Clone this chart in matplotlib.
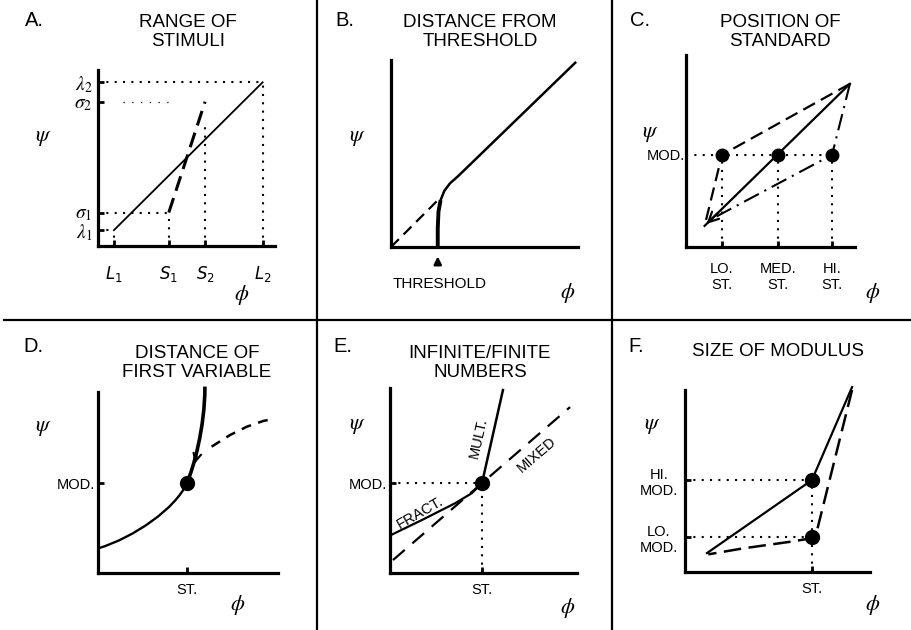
import numpy as np
import matplotlib.pyplot as plt
from matplotlib.path import Path
from matplotlib.patches import PathPatch

plt.rcParams['font.family'] = ['Liberation Sans', 'DejaVu Sans']
plt.rcParams['mathtext.fontset'] = 'dejavusans'

W, H = 911, 630

# ---- panel A: range of stimuli
a_L = [9, 93]          # large stimulus range (phi)
a_S = [40, 60.5]       # small stimulus range (phi)
a_lam = [9, 93]        # responses for large range
a_sig = [19, 82]       # responses for small range
a_xlabels = ['$L_1$', '$S_1$', '$S_2$', '$L_2$']
a_ylabels = [r'$\lambda_1$', r'$\sigma_1$', r'$\sigma_2$', r'$\lambda_2$']

# ---- panel B: distance from threshold
b_x = [25, 25, 25.4, 26.5, 28.5, 31.5, 36, 99]
b_y = [0, 10, 19, 25, 30, 34, 38, 99]
b_dash_x = [0, 25]
b_dash_y = [0, 25]
b_threshold = 25

# ---- panel C: position of standard
c_st = [21.3, 54.4, 86.4]          # LO, MED, HI standard
c_mod = 48
c_top = (97, 85)
c_bottom = (11, 11)
c_dashdot_end = (14, 14)
c_xlabels = ['LO.\nST.', 'MED.\nST.', 'HI.\nST.']

# ---- panel D: distance of first variable (bezier control points)
d_lower = [(0, 13.6), (20, 19.5), (43.4, 35.9), (49.4, 49.7)]
d_upper = [(49.4, 49.7), (53, 58), (59.4, 80), (59.4, 103)]
d_dash_x = [63.1, 73.3, 82.6, 91.8, 97.4]
d_dash_y = [69.8, 76.2, 80.8, 84, 85.1]
d_st, d_mod = 49.4, 49.7

# ---- panel E: infinite / finite numbers
e_st, e_mod = 49.2, 48.6
e_mult_x = [49.2, 60.4]
e_mult_y = [48.6, 98.9]
e_fract_x = [0.5, 8, 17, 25.8, 34.8, 43.7, 49.2]
e_fract_y = [20.5, 24.2, 28.6, 33.1, 37.7, 43.1, 48.6]
e_mixed_x = [1.6, 96.3]
e_mixed_y = [7, 89.7]

# ---- panel F: size of modulus
f_st = 68.6
f_hi, f_lo = 50.5, 19.2
f_top = (90.3, 101.6)
f_bl = (11.9, 10.4)
f_dash_x = [90.3, 71.4, 68.6, 65.8, 56.8, 31.5, 12.6]
f_dash_y = [100, 23, 19.2, 18.1, 16.6, 13, 9.7]

fig = plt.figure(figsize=(W / 100, H / 100), dpi=100)

# overlay in pixel coordinates for frame lines and titles
ov = fig.add_axes([0, 0, 1, 1])
ov.set_xlim(0, W)
ov.set_ylim(H, 0)
ov.axis('off')
ov.plot([317, 317], [0, H], color='k', lw=1.6)
ov.plot([612, 612], [0, H], color='k', lw=1.6)
ov.plot([4, W], [320, 320], color='k', lw=1.6)

titles = [('A.', 25, 20, 'RANGE OF\nSTIMULI', 188, 32),
          ('B.', 335, 20, 'DISTANCE FROM\nTHRESHOLD', 480, 32),
          ('C.', 630, 20, 'POSITION OF\nSTANDARD', 780, 32),
          ('D.', 23, 347, 'DISTANCE OF\nFIRST VARIABLE', 197, 363),
          ('E.', 333, 347, 'INFINITE/FINITE\nNUMBERS', 480, 363),
          ('F.', 628, 347, 'SIZE OF MODULUS', 778, 352)]
for let, lx, ly, t, tx, ty in titles:
    ov.text(lx, ly, let, fontsize=14.5, ha='left', va='center')
    ov.text(tx, ty, t, fontsize=13.5, ha='center', va='center', linespacing=1.15)

psi_pos = [(43, 137), (357, 137), (650, 133), (43, 428), (357, 425), (652, 425)]
phi_pos = [(242, 295), (568, 293), (873, 293), (238, 605), (568, 608), (873, 605)]
for x, y in psi_pos:
    ov.text(x, y, r'$\psi$', fontsize=16, ha='center', va='center', math_fontfamily='stix')
for x, y in phi_pos:
    ov.text(x, y, r'$\phi$', fontsize=16, ha='center', va='center', math_fontfamily='stix')


def panel(left, bottom, right, top):
    ax = fig.add_axes([left / W, 1 - bottom / H, (right - left) / W, (bottom - top) / H])
    ax.set_xlim(0, 100)
    ax.set_ylim(0, 100)
    ax.patch.set_alpha(0)
    for s in ['top', 'right']:
        ax.spines[s].set_visible(False)
    for s in ['left', 'bottom']:
        ax.spines[s].set_linewidth(2.3)
        ax.spines[s].set_capstyle('projecting')
    ax.set_xticks([])
    ax.set_yticks([])
    ax.tick_params(direction='in', length=4, width=2, labelsize=10.5)
    return ax


def bezier(ax, pts, lw):
    path = Path(pts, [Path.MOVETO, Path.CURVE4, Path.CURVE4, Path.CURVE4])
    ax.add_patch(PathPatch(path, fc='none', ec='k', lw=lw, clip_on=False))


DOT = (0, (1, 3))
kw_dot = dict(color='k', lw=1.5, ls=DOT, clip_on=False)

# A
ax = panel(98, 246, 275, 70)
ax.plot(a_L, a_lam, color='k', lw=1.3, clip_on=False)
ax.plot(a_S, a_sig, color='k', lw=2.2, ls=(0, (5, 2.5)), clip_on=False)
ax.plot([0, a_L[1]], [a_lam[1]] * 2, **kw_dot)
ax.plot([14, 42], [a_sig[1]] * 2, color='k', lw=0.9, ls=(0, (1, 6)), clip_on=False)
ax.plot([0, a_S[0]], [a_sig[0]] * 2, **kw_dot)
ax.plot([0, a_L[0]], [a_lam[0]] * 2, **kw_dot)
ax.plot([a_L[0]] * 2, [0, a_lam[0]], **kw_dot)
ax.plot([a_S[0]] * 2, [0, a_sig[0]], **kw_dot)
ax.plot([a_S[1]] * 2, [0, 70], **kw_dot)
ax.plot([a_L[1]] * 2, [0, a_lam[1]], **kw_dot)
ax.set_xticks([a_L[0], a_S[0], a_S[1], a_L[1]])
ax.set_xticklabels(a_xlabels, fontsize=12)
ax.set_yticks([a_lam[0], a_sig[0], a_sig[1], a_lam[1]])
ax.set_yticklabels(a_ylabels, fontsize=14, math_fontfamily='stix')
ax.tick_params(axis='x', pad=13)
ax.tick_params(axis='y', pad=4)

# B
ax = panel(391, 247, 578, 60)
ax.plot(b_x, b_y, color='k', lw=1.8, clip_on=False, solid_capstyle='butt')
ax.plot(b_x[:4], b_y[:4], color='k', lw=2.8, clip_on=False, solid_capstyle='butt')
ax.plot(b_dash_x, b_dash_y, color='k', lw=1.6, ls=(0, (5, 3)), clip_on=False)
ax.annotate('', xy=(b_threshold, -3.5), xytext=(b_threshold, -10), annotation_clip=False,
            arrowprops=dict(arrowstyle='-|>', lw=1.8, color='k', mutation_scale=11))
ax.text(b_threshold + 1, -20, 'THRESHOLD', fontsize=11, ha='center', va='center')

# C
ax = panel(686, 247, 855, 55)
ax.plot([c_top[0], c_bottom[0]], [c_top[1], c_bottom[1]], color='k', lw=1.6, clip_on=False)
ax.annotate('', xy=c_bottom, xytext=(20, 18.7), annotation_clip=False,
            arrowprops=dict(arrowstyle='->', lw=1.6, color='k', mutation_scale=18))
ax.plot([c_top[0], c_st[0], c_bottom[0]], [c_top[1], c_mod, c_bottom[1]],
        color='k', lw=1.6, ls=(0, (6, 3)), clip_on=False)
ax.plot([c_top[0], c_st[2], c_dashdot_end[0]], [c_top[1], c_mod, c_dashdot_end[1]],
        color='k', lw=1.5, ls=(0, (8, 3, 1, 3)), clip_on=False)
ax.plot([0, c_st[2]], [c_mod, c_mod], **kw_dot)
for s in c_st:
    ax.plot([s, s], [0, c_mod], **kw_dot)
ax.plot(c_st, [c_mod] * 3, 'o', color='k', ms=9, clip_on=False)
ax.set_xticks(c_st)
ax.set_xticklabels(c_xlabels, multialignment='center')
ax.set_yticks([c_mod])
ax.set_yticklabels(['MOD.'])
ax.tick_params(axis='x', pad=11)
ax.tick_params(axis='y', length=0, pad=1)

# D
ax = panel(98, 573, 278, 392)
bezier(ax, d_lower, 1.7)
bezier(ax, d_upper, 2.6)
ax.annotate('', xy=(53.4, 59), xytext=(55.2, 66), annotation_clip=False,
            arrowprops=dict(arrowstyle='->', lw=1.5, color='k', mutation_scale=14))
ax.plot(d_dash_x, d_dash_y, color='k', lw=1.8, ls=(0, (4, 3)), clip_on=False)
ax.plot([d_st], [d_mod], 'o', color='k', ms=10, clip_on=False)
ax.set_xticks([d_st])
ax.set_xticklabels(['ST.'])
ax.set_yticks([d_mod])
ax.set_yticklabels(['MOD.'])
ax.tick_params(axis='x', pad=7)
ax.tick_params(axis='y', pad=2)

# E
ax = panel(390, 573, 577, 388)
ax.plot(e_mult_x, e_mult_y, color='k', lw=1.8, clip_on=False)
ax.plot(e_fract_x, e_fract_y, color='k', lw=1.6, clip_on=False)
ax.plot(e_mixed_x, e_mixed_y, color='k', lw=1.6, ls=(0, (7, 4.5)), clip_on=False)
ax.plot([0, e_st], [e_mod, e_mod], **kw_dot)
ax.plot([e_st, e_st], [0, e_mod], **kw_dot)
ax.plot([e_st], [e_mod], 'o', color='k', ms=10, clip_on=False)


def screen_angle(ax, x, y):
    p = ax.transData.transform(np.column_stack([x, y]))
    d = p[-1] - p[0]
    return np.degrees(np.arctan2(d[1], d[0]))


ax.text(47.5, 73, 'MULT.', fontsize=10.5, ha='center', va='center',
        rotation=screen_angle(ax, e_mult_x, e_mult_y))
ax.text(16, 32.5, 'FRACT.', fontsize=10.5, ha='center', va='center',
        rotation=screen_angle(ax, e_fract_x, e_fract_y))
ax.text(78.5, 64, 'MIXED', fontsize=10.5, ha='center', va='center',
        rotation=screen_angle(ax, e_mixed_x, e_mixed_y))
ax.set_xticks([e_st])
ax.set_xticklabels(['ST.'])
ax.set_yticks([e_mod])
ax.set_yticklabels(['MOD.'])
ax.tick_params(axis='x', pad=7)
ax.tick_params(axis='y', pad=2)

# F
ax = panel(685, 572, 870, 390)
ax.plot([f_top[0], f_st, f_bl[0]], [f_top[1], f_hi, f_bl[1]], color='k', lw=1.6, clip_on=False)
ax.plot(f_dash_x, f_dash_y, color='k', lw=1.8, ls=(0, (7, 3)), clip_on=False)
ax.plot([0, f_st], [f_hi, f_hi], **kw_dot)
ax.plot([0, f_st], [f_lo, f_lo], **kw_dot)
ax.plot([f_st, f_st], [0, f_hi], **kw_dot)
ax.plot([f_st, f_st], [f_lo, f_hi], 'o', color='k', ms=10, clip_on=False)
ax.set_xticks([f_st])
ax.set_xticklabels(['ST.'])
ax.set_yticks([f_lo, f_hi])
ax.set_yticklabels(['LO.\nMOD.', 'HI.\nMOD.'], multialignment='center')
ax.tick_params(axis='x', pad=7)
ax.tick_params(axis='y', pad=5)

fig.savefig('out.png', dpi=100)
